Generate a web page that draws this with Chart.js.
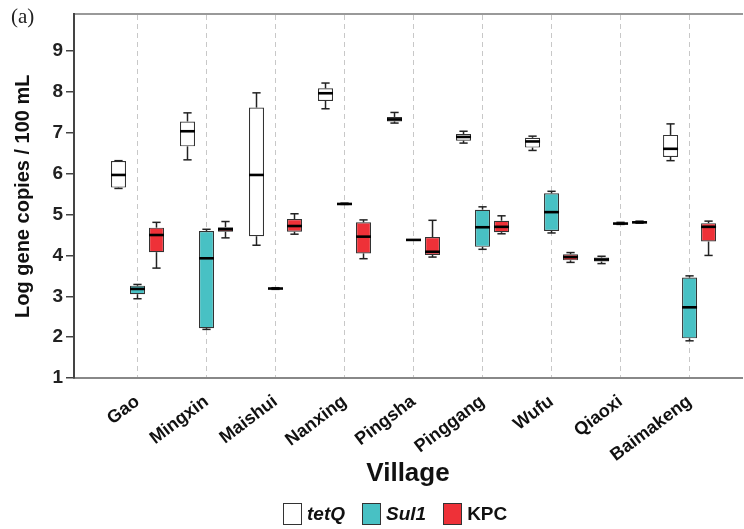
<!DOCTYPE html>
<html>
<head>
<meta charset="utf-8">
<script src="https://cdn.jsdelivr.net/npm/chart.js@4.4.0/dist/chart.umd.min.js"></script>
<style>
    html, body { margin: 0; padding: 0; background: #fff; }
    #wrap { position: relative; width: 744px; height: 529px; }
    #panel { position: absolute; left: 11px; top: 4px; font: 21px "Liberation Serif", "Times New Roman", serif; color: #222; }
    #legend { position: absolute; left: 283px; top: 503px; display: flex; align-items: center; font: bold 19px "Liberation Sans", Arial, sans-serif; color: #111; }
    #legend .item { display: flex; align-items: center; margin-right: 17px; }
    #legend .box { width: 19px; height: 22px; border: 1.5px solid #333; margin-right: 5px; box-sizing: border-box; }
    #legend i { font-style: italic; }
</style>
</head>
<body>
<div id="wrap">
    <canvas id="c" width="744" height="529"></canvas>
    <div id="panel">(a)</div>
    <div id="legend">
        <div class="item"><div class="box" style="background:#ffffff"></div><i>tetQ</i></div>
        <div class="item"><div class="box" style="background:#48c1c4"></div><i>Sul1</i></div>
        <div class="item"><div class="box" style="background:#ee3138"></div><span>KPC</span></div>
    </div>
</div>
<script>
const villages = ['Gao', 'Mingxin', 'Maishui', 'Nanxing', 'Pingsha', 'Pinggang', 'Wufu', 'Qiaoxi', 'Baimakeng'];

// tetQ (log copies / 100 mL)
const tetqMin = [5.64, 6.34, 4.25, 7.59, 7.24, 6.75, 6.57, 3.80, 6.32];
const tetqQ1  = [5.66, 6.67, 4.47, 7.78, 7.28, 6.81, 6.64, 3.85, 6.41];
const tetqMed = [5.97, 7.04, 5.97, 7.97, 7.33, 6.90, 6.79, 3.90, 6.61];
const tetqQ3  = [6.31, 7.28, 7.62, 8.09, 7.39, 6.97, 6.88, 3.95, 6.95];
const tetqMax = [6.32, 7.49, 7.98, 8.22, 7.50, 7.04, 6.92, 3.98, 7.22];

// Sul1
const sulMin = [2.94, 2.19, 3.17, 5.25, 4.38, 4.15, 4.55, 4.76, 1.91];
const sulQ1  = [3.05, 2.22, 3.18, 5.25, 4.38, 4.21, 4.60, 4.77, 1.97];
const sulMed = [3.18, 3.93, 3.19, 5.26, 4.38, 4.69, 5.06, 4.78, 2.73];
const sulQ3  = [3.26, 4.60, 3.20, 5.27, 4.38, 5.12, 5.52, 4.80, 3.46];
const sulMax = [3.29, 4.64, 3.21, 5.28, 4.38, 5.19, 5.57, 4.81, 3.50];

// KPC
const kpcMin = [3.69, 4.43, 4.52, 3.92, 3.96, 4.53, 3.83, 4.79, 4.00];
const kpcQ1  = [4.08, 4.58, 4.58, 4.05, 4.01, 4.57, 3.88, 4.80, 4.34];
const kpcMed = [4.50, 4.64, 4.72, 4.46, 4.09, 4.70, 3.96, 4.81, 4.70];
const kpcQ3  = [4.68, 4.69, 4.89, 4.81, 4.45, 4.85, 4.03, 4.83, 4.79];
const kpcMax = [4.81, 4.83, 5.02, 4.87, 4.86, 4.97, 4.07, 4.84, 4.84];

const yTicks = [1, 2, 3, 4, 5, 6, 7, 8, 9];

const stats = [
    { lo: tetqQ1, hi: tetqQ3, min: tetqMin, med: tetqMed, max: tetqMax },
    { lo: sulQ1, hi: sulQ3, min: sulMin, med: sulMed, max: sulMax },
    { lo: kpcQ1, hi: kpcQ3, min: kpcMin, med: kpcMed, max: kpcMax }
];

const xMin = -0.92, xMax = 8.76;
Chart.defaults.font.family = "'Liberation Sans', Arial, sans-serif";

function boxes(label, color, lo, hi) {
    return {
        label: label,
        data: villages.map((v, i) => ({ x: i, y: [lo[i], hi[i]] })),
        backgroundColor: color,
        borderColor: '#333',
        borderWidth: 1.2,
        borderSkipped: false
    };
}

// whiskers, caps and median lines on top of the floating bars
const boxPlot = {
    id: 'boxPlot',
    afterDatasetsDraw(chart) {
        const ctx = chart.ctx;
        const ys = chart.scales.y;
        const seg = (x1, y1, x2, y2) => { ctx.beginPath(); ctx.moveTo(x1, y1); ctx.lineTo(x2, y2); ctx.stroke(); };
        ctx.save();
        stats.forEach((s, d) => {
            chart.getDatasetMeta(d).data.forEach((bar, i) => {
                const { x, width } = bar.getProps(['x', 'width'], true);
                const cap = width * 0.55;
                const yLo = ys.getPixelForValue(s.lo[i]);
                const yHi = ys.getPixelForValue(s.hi[i]);
                const yMin = ys.getPixelForValue(s.min[i]);
                const yMax = ys.getPixelForValue(s.max[i]);
                const yMed = ys.getPixelForValue(s.med[i]);
                ctx.strokeStyle = '#222';
                ctx.lineWidth = 1.5;
                seg(x, yHi, x, yMax);
                seg(x - cap / 2, yMax, x + cap / 2, yMax);
                seg(x, yLo, x, yMin);
                seg(x - cap / 2, yMin, x + cap / 2, yMin);
                ctx.strokeStyle = '#000';
                ctx.lineWidth = 2.6;
                seg(x - width / 2, yMed, x + width / 2, yMed);
            });
        });
        ctx.restore();
    }
};

new Chart(document.getElementById('c'), {
    type: 'bar',
    data: {
        datasets: [
            boxes('tetQ', '#ffffff', tetqQ1, tetqQ3),
            boxes('Sul1', '#48c1c4', sulQ1, sulQ3),
            boxes('KPC', '#ee3138', kpcQ1, kpcQ3)
        ]
    },
    options: {
        responsive: false,
        animation: false,
        categoryPercentage: 0.826,
        barPercentage: 0.79,
        layout: { padding: { top: 11, right: 2, left: 0, bottom: 0 } },
        plugins: {
            legend: { display: false },
            tooltip: { enabled: false }
        },
        scales: {
            x: {
                type: 'linear',
                offset: false,
                min: xMin,
                max: xMax,
                afterBuildTicks: s => { s.ticks = villages.map((v, i) => ({ value: i })); },
                afterFit: s => { s.height = 151; },
                ticks: {
                    autoSkip: false,
                    minRotation: 37,
                    maxRotation: 37,
                    padding: 5,
                    color: '#111',
                    font: { size: 18, weight: 'bold' },
                    callback: v => villages[v]
                },
                grid: { display: false },
                border: { color: '#888', width: 2 },
                title: {
                    display: true,
                    text: 'Village',
                    color: '#111',
                    font: { size: 26, weight: 'bold' },
                    padding: { top: 4, bottom: 40 }
                }
            },
            x2: {
                type: 'linear',
                position: 'top',
                offset: false,
                min: xMin,
                max: xMax,
                afterBuildTicks: s => { s.ticks = [0.5, 1.5, 2.5, 3.5, 4.5, 5.5, 6.5, 7.5].map(v => ({ value: v })); },
                ticks: { display: false },
                grid: { color: '#c8c8c8', lineWidth: 1, drawTicks: false },
                border: { color: '#999', width: 2, dash: [5, 4] }
            },
            y: {
                min: 1,
                max: 9.9,
                afterBuildTicks: s => { s.ticks = yTicks.map(v => ({ value: v })); },
                afterFit: s => { s.width = 74; },
                ticks: {
                    padding: 3,
                    color: '#222',
                    font: { size: 19, weight: 'bold' }
                },
                grid: { drawOnChartArea: false, tickLength: 8, color: '#444', lineWidth: 1.5 },
                border: { color: '#444', width: 2 },
                title: {
                    display: true,
                    text: 'Log gene copies / 100 mL',
                    color: '#111',
                    font: { size: 20, weight: 'bold' },
                    padding: { top: 11, bottom: 3 }
                }
            }
        }
    },
    plugins: [boxPlot]
});
</script>
</body>
</html>
